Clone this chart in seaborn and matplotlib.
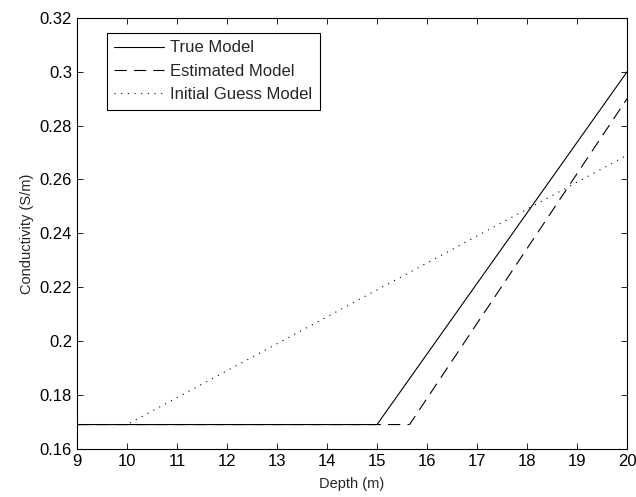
import matplotlib
matplotlib.use("Agg")
import matplotlib.pyplot as plt
import seaborn as sns

# data
true_depth = [9, 15, 20]
true_cond = [0.169, 0.169, 0.300]

est_depth = [9, 15.65, 20]
est_cond = [0.169, 0.169, 0.290]

init_depth = [9, 10, 20]
init_cond = [0.169, 0.169, 0.269]

sns.set_style("ticks")
plt.rcParams['font.family'] = ['Liberation Sans', 'DejaVu Sans']
plt.rcParams['xtick.direction'] = 'in'
plt.rcParams['ytick.direction'] = 'in'

fig, ax = plt.subplots(figsize=(6.36, 4.97), dpi=100)
fig.subplots_adjust(left=0.121, right=0.986, top=0.964, bottom=0.097)

sns.lineplot(x=true_depth, y=true_cond, ax=ax, color="black", lw=0.8, label="True Model")
sns.lineplot(x=est_depth, y=est_cond, ax=ax, color="black", lw=0.8, label="Estimated Model")
sns.lineplot(x=init_depth, y=init_cond, ax=ax, color="black", lw=0.8, label="Initial Guess Model")
ax.lines[1].set_dashes([11, 6.5])
ax.lines[2].set_linestyle((0, (1, 5)))

ax.set_xlim(9, 20)
ax.set_ylim(0.16, 0.32)
ax.set_xticks(range(9, 21))
ax.set_yticks([0.16, 0.18, 0.2, 0.22, 0.24, 0.26, 0.28, 0.3, 0.32])
ax.set_yticklabels(["0.16", "0.18", "0.2", "0.22", "0.24", "0.26", "0.28", "0.3", "0.32"])
ax.tick_params(top=True, right=True, labelsize=12, length=4, width=0.6, colors="black")
for s in ax.spines.values():
    s.set_linewidth(0.8)
    s.set_color("black")

ax.set_xlabel("Depth (m)", fontsize=10.5, labelpad=6)
ax.set_ylabel("Conductivity (S/m)", fontsize=10.5, labelpad=4)

leg = ax.legend(loc="upper left", bbox_to_anchor=(0.0545, 0.965), borderaxespad=0,
                fontsize=12, fancybox=False, edgecolor="black", framealpha=1,
                handlelength=3.0, handletextpad=0.35, borderpad=0.45, labelspacing=0.5)
leg.get_frame().set_linewidth(0.8)

plt.savefig("out.png", dpi=100)
